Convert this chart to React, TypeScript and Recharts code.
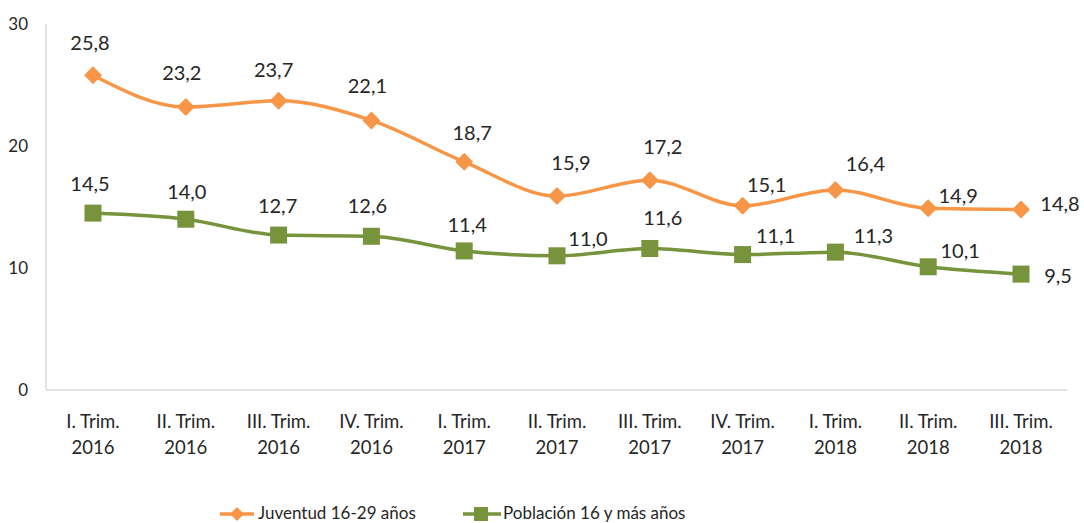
import React from 'react';
import { LineChart, Line, XAxis, YAxis, LabelList, Legend } from 'recharts';

const QUARTERS = ['I. Trim.', 'II. Trim.', 'III. Trim.', 'IV. Trim.', 'I. Trim.', 'II. Trim.', 'III. Trim.', 'IV. Trim.', 'I. Trim.', 'II. Trim.', 'III. Trim.'];
const YEARS = ['2016', '2016', '2016', '2016', '2017', '2017', '2017', '2017', '2018', '2018', '2018'];
const JUVENTUD = [25.8, 23.2, 23.7, 22.1, 18.7, 15.9, 17.2, 15.1, 16.4, 14.9, 14.8];
const POBLACION = [14.5, 14.0, 12.7, 12.6, 11.4, 11.0, 11.6, 11.1, 11.3, 10.1, 9.5];
const Y_TICKS = [0, 10, 20, 30];

const ORANGE = '#F79646';
const GREEN = '#77933C';
const TEXT = '#262626';
const FONT = 'Lato, "Open Sans", sans-serif';

// label nudges (dx, dy) per point, like the hand-placed labels in the source
const ORANGE_OFFSETS: [number, number][] = [[-3, -33], [-4, -35], [-5, -32], [-4, -35], [8, -30], [14, -34], [13, -34], [24, -22], [30, -27], [30, -13], [39, -6]];
const GREEN_OFFSETS: [number, number][] = [[-3, -30], [1, -28], [-1, -30], [-4, -31], [3, -27], [31, -18], [13, -31], [33, -20], [38, -17], [32, -17], [37, 1]];

const data = QUARTERS.map((q, i) => ({
  name: `${q} ${YEARS[i]}`,
  quarter: q,
  year: YEARS[i],
  juventud: JUVENTUD[i],
  poblacion: POBLACION[i],
}));

const fmt = (v: number) => v.toFixed(1).replace('.', ',');

const Diamond = (props: any) => {
  const { cx, cy } = props;
  if (cx == null || cy == null) return null;
  const r = 9;
  return <polygon points={`${cx},${cy - r} ${cx + r},${cy} ${cx},${cy + r} ${cx - r},${cy}`} fill={ORANGE} />;
};

const Square = (props: any) => {
  const { cx, cy } = props;
  if (cx == null || cy == null) return null;
  const s = 17;
  return <rect x={cx - s / 2} y={cy - s / 2} width={s} height={s} fill={GREEN} />;
};

const makeLabel = (offsets: [number, number][]) => (props: any) => {
  const { x, y, value, index } = props;
  const [dx, dy] = offsets[index] || [0, -30];
  return (
    <text x={x + dx} y={y + dy} textAnchor="middle" dominantBaseline="central" fill={TEXT} fontSize={20} fontFamily={FONT}>
      {fmt(value)}
    </text>
  );
};

const CategoryTick = (props: any) => {
  const { x, y, index } = props;
  return (
    <g>
      <text x={x} y={y + 30} textAnchor="middle" fill={TEXT} fontSize={18.5} fontFamily={FONT}>{QUARTERS[index]}</text>
      <text x={x} y={y + 56} textAnchor="middle" fill={TEXT} fontSize={18.5} fontFamily={FONT}>{YEARS[index]}</text>
    </g>
  );
};

const LegendContent = () => (
  <div style={{ position: 'relative', height: 30, fontFamily: FONT, fontSize: 17, color: TEXT }}>
    <svg width={40} height={20} style={{ position: 'absolute', left: 218, top: 3 }}>
      <line x1={2} y1={10} x2={36} y2={10} stroke={ORANGE} strokeWidth={3.5} />
      <polygon points="19,3 26,10 19,17 12,10" fill={ORANGE} />
    </svg>
    <span style={{ position: 'absolute', left: 258, top: 1 }}>Juventud 16-29 años</span>
    <svg width={42} height={20} style={{ position: 'absolute', left: 461, top: 3 }}>
      <line x1={2} y1={10} x2={40} y2={10} stroke={GREEN} strokeWidth={3.5} />
      <rect x={13} y={3} width={14} height={14} fill={GREEN} />
    </svg>
    <span style={{ position: 'absolute', left: 503, top: 1 }}>Población 16 y más años</span>
  </div>
);

export default function App() {
  return (
    <div style={{ position: 'absolute', left: 0, top: 0, background: '#fff' }}>
      <LineChart width={1084} height={523} data={data} margin={{ top: 24, right: 17, left: 0, bottom: 0 }}>
        <XAxis
          dataKey="name"
          interval={0}
          tickLine={false}
          axisLine={{ stroke: '#D9D9D9', strokeWidth: 1.5 }}
          tick={<CategoryTick />}
          padding={{ left: 47, right: 46 }}
          height={103}
        />
        <YAxis
          domain={[0, 30]}
          ticks={Y_TICKS}
          width={46}
          tickLine={false}
          axisLine={{ stroke: '#D9D9D9', strokeWidth: 1.5 }}
          tick={{ fill: TEXT, fontSize: 17, fontFamily: FONT, dx: -10 }}
        />
        <Legend verticalAlign="bottom" content={<LegendContent />} wrapperStyle={{ left: 0, bottom: -8, width: 1084 }} />
        <Line
          type="monotone"
          dataKey="juventud"
          stroke={ORANGE}
          strokeWidth={3.5}
          dot={<Diamond />}
          activeDot={false}
          isAnimationActive={false}
        >
          <LabelList dataKey="juventud" content={makeLabel(ORANGE_OFFSETS)} />
        </Line>
        <Line
          type="monotone"
          dataKey="poblacion"
          stroke={GREEN}
          strokeWidth={3.5}
          dot={<Square />}
          activeDot={false}
          isAnimationActive={false}
        >
          <LabelList dataKey="poblacion" content={makeLabel(GREEN_OFFSETS)} />
        </Line>
      </LineChart>
    </div>
  );
}
